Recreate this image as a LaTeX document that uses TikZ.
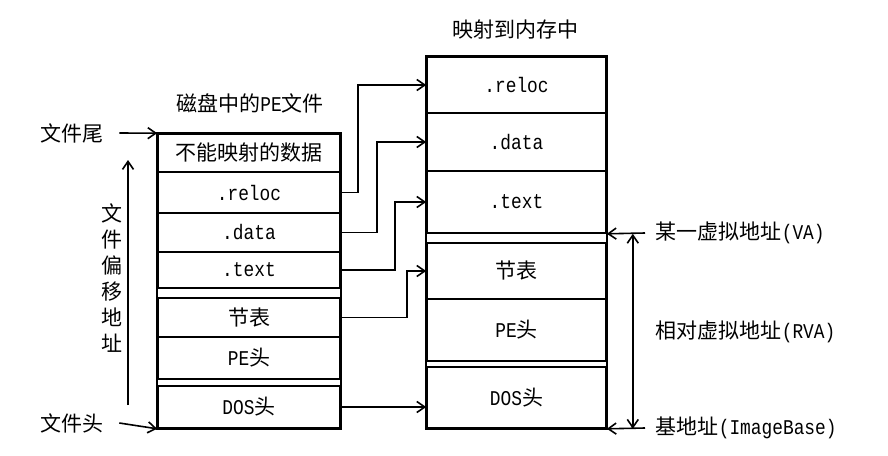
\documentclass[tikz,border=0pt]{standalone}
\usepackage{fontspec}
\setmainfont{Liberation Mono}[Scale=1.0,FakeStretch=0.85]
\newfontfamily\cjk{Noto Sans CJK SC}
\usetikzlibrary{arrows.meta}

\begin{document}
\begin{tikzpicture}[x=1pt,y=-1pt,line width=1.6pt,
  font=\fontsize{21}{25}\selectfont,
  >={Straight Barb[length=8pt,width=11pt]},
  lrow/.style={draw,minimum width=182pt,minimum height=#1,inner sep=0pt},
  rrow/.style={draw,minimum width=179pt,minimum height=#1,inner sep=0pt},
  lbl/.style={inner sep=0pt}]
\useasboundingbox (0,0) rectangle (888,455);

% titles
\node[lbl] (ltitle) at (250,103) {{\cjk 磁盘中的}PE{\cjk 文件}};
\node[lbl] (rtitle) at (515,30) {\cjk 映射到内存中};

% the PE file on disk
\node[lrow=38pt] (lnd)  at (249,153)   {\cjk 不能映射的数据};
\node[lrow=41pt] (lrel) at (249,192.5) {.reloc};
\node[lrow=39pt] (ldat) at (249,232.5) {.data};
\node[lrow=36pt] (ltxt) at (249,270)   {.text};
\node[lrow=39pt] (lsec) at (249,317.5) {\cjk 节表};
\node[lrow=42pt] (lpe)  at (249,358)   {PE{\cjk 头}};
\node[lrow=42pt] (ldos) at (249,407)   {DOS{\cjk 头}};
\draw (lnd.north west) rectangle (ldos.south east);

% the image in memory
\node[rrow=56pt] (rrel) at (516.5,85)    {.reloc};
\node[rrow=58pt] (rdat) at (516.5,142)   {.data};
\node[rrow=62pt] (rtxt) at (516.5,202)   {.text};
\node[rrow=56pt] (rsec) at (516.5,271)   {\cjk 节表};
\node[rrow=62pt] (rpe)  at (516.5,330)   {PE{\cjk 头}};
\node[rrow=61pt] (rdos) at (516.5,397.5) {DOS{\cjk 头}};
\draw (rrel.north west) rectangle (rdos.south east);

% mapping
\draw[->] (lrel.east) -- ++(17,0) |- (rrel.west);
\draw[->] (ldat.east) -- ++(36,0) |- (rdat.west);
\draw[->] (ltxt.east) -- ++(54,0) |- (rtxt.west);
\draw[->] (lsec.east) -- ++(66,0) |- (rsec.west);
\draw[->] (ldos.east) -- (ldos.east -| rdos.west);

% file offsets
\node[lbl] (ftail) at (72,133) {\cjk 文件尾};
\node[lbl] (fhead) at (72,423) {\cjk 文件头};
\draw[->] ([xshift=15]ftail.east) -- (lnd.north west);
\draw[->] ([xshift=15]fhead.east) -- (ldos.south west);
\draw[->] (128,405) -- (128,160);
\node[lbl,align=center,font=\fontsize{21}{26}\selectfont\cjk] (foff) at (112,278)
  {文\\件\\偏\\移\\地\\址};

% virtual addresses
\node[lbl,anchor=west] (va)  at (655,233) {{\cjk 某一虚拟地址}(VA)};
\node[lbl,anchor=west] (rva) at (655,332) {{\cjk 相对虚拟地址}(RVA)};
\node[lbl,anchor=west] (ib)  at (655,428) {{\cjk 基地址}(ImageBase)};
\draw[->] ([xshift=-10]va.west) -- (rtxt.south east);
\draw[->] ([xshift=-10]ib.west) -- (rdos.south east);
\draw[<->] ([xshift=26]rtxt.south east) -- ([xshift=26]rdos.south east);
\end{tikzpicture}
\end{document}
